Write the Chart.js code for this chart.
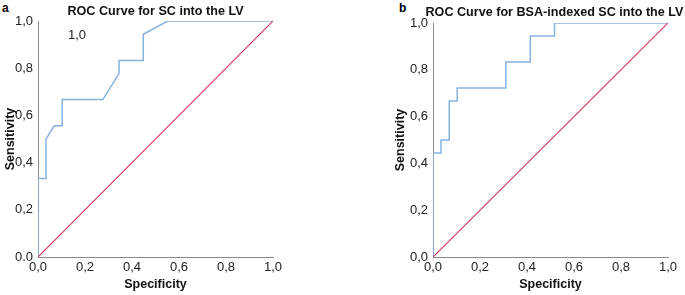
<!DOCTYPE html>
<html>
<head>
<meta charset="utf-8">
<script src="https://cdn.jsdelivr.net/npm/chart.js@4/dist/chart.umd.min.js"></script>
<style>
  body { margin: 0; background: #fff; width: 685px; height: 295px; position: relative; overflow: hidden; }
  .panel { position: absolute; top: 0; }
  .tag { position: absolute; top: 1px; font: bold 12px "Liberation Sans", Arial, sans-serif; color: #000; }
</style>
</head>
<body>
<div class="tag" style="left:2px">a</div>
<div class="tag" style="left:399px">b</div>
<div class="panel" style="left:0;width:290px;height:295px"><canvas id="chartA"></canvas></div>
<div class="panel" style="left:390px;width:295px;height:295px"><canvas id="chartB"></canvas></div>
<script>
// panel a - ROC SC into the LV
var aX = [0, 0, 0.034, 0.034, 0.069, 0.103, 0.103, 0.276, 0.345, 0.345, 0.448, 0.448, 0.552, 1];
var aY = [0, 0.333, 0.333, 0.5, 0.556, 0.556, 0.667, 0.667, 0.778, 0.833, 0.833, 0.944, 1, 1];
var aYTicks = ['0.0', '0,2', '0,4', '0,6', '0,8', '1,0'];
var aNote = { x: 0.166, y: 0.94, text: '1,0' };

// panel b - ROC BSA-indexed SC into the LV
var bX = [0, 0, 0.034, 0.034, 0.069, 0.069, 0.103, 0.103, 0.310, 0.310, 0.414, 0.414, 0.517, 0.517, 1];
var bY = [0, 0.444, 0.444, 0.5, 0.5, 0.667, 0.667, 0.722, 0.722, 0.833, 0.833, 0.944, 0.944, 1, 1];
var bYTicks = ['0,0', '0,2', '0,4', '0,6', '0,8', '1,0'];

var xTicks = ['0,0', '0,2', '0,4', '0,6', '0,8', '1,0'];
var refX = [0, 1];
var refY = [0, 1];

var FONT = '"Liberation Sans", Arial, sans-serif';

function toPoints(xs, ys) {
    return xs.map(function (v, i) { return { x: v, y: ys[i] }; });
}

// title centred over the plot area + optional stray label inside the plot
var textPlugin = {
    id: 'texts',
    afterDraw: function (chart, args, opts) {
        var ctx = chart.ctx;
        var area = chart.chartArea;
        ctx.save();
        ctx.textAlign = 'center';
        ctx.textBaseline = 'middle';
        ctx.fillStyle = '#111';
        ctx.font = 'bold ' + opts.titleSize + 'px ' + FONT;
        ctx.fillText(opts.title, (area.left + area.right) / 2 + opts.titleShift, opts.titleY);
        if (opts.note) {
            ctx.font = '13px ' + FONT;
            ctx.fillStyle = '#222';
            ctx.fillText(opts.note.text, chart.scales.x.getPixelForValue(opts.note.x), chart.scales.y.getPixelForValue(opts.note.y));
        }
        ctx.restore();
    }
};

function makeRoc(canvasId, texts, xs, ys, yTicks, yWidth, padTop) {
    var canvas = document.getElementById(canvasId);
    var ctx = canvas.getContext('2d');
    return new Chart(ctx, {
        type: 'scatter',
        data: {
            datasets: [
                { data: toPoints(refX, refY), showLine: true, borderColor: '#d93b60', borderWidth: 1.2,
                  pointRadius: 0, tension: 0, fill: false },
                { data: toPoints(xs, ys), showLine: true, borderColor: '#86b3e0', borderWidth: 1.5,
                  pointRadius: 0, tension: 0, fill: false }
            ]
        },
        plugins: [textPlugin],
        options: {
            responsive: true,
            maintainAspectRatio: false,
            animation: false,
            layout: { padding: { top: padTop, right: 17, bottom: 0, left: 0 } },
            plugins: {
                legend: { display: false },
                tooltip: { enabled: false },
                title: { display: false },
                texts: texts
            },
            scales: {
                x: {
                    type: 'linear', min: 0, max: 1,
                    grid: { display: false, drawTicks: false },
                    border: { display: true, color: '#8a8a8a', width: 1 },
                    ticks: {
                        stepSize: 0.2, padding: 3, color: '#222',
                        font: { family: FONT, size: 13 },
                        callback: function (v, i) { return xTicks[i]; }
                    },
                    title: { display: true, text: 'Specificity', color: '#111',
                             font: { family: FONT, size: 12.5, weight: 'bold' }, padding: { top: 0, bottom: 3 } },
                    afterFit: function (scale) { scale.height = 38; }
                },
                y: {
                    type: 'linear', min: 0, max: 1,
                    grid: { display: false, drawTicks: false },
                    border: { display: true, color: '#8a8a8a', width: 1 },
                    ticks: {
                        stepSize: 0.2, padding: 5, color: '#222',
                        font: { family: FONT, size: 13 },
                        callback: function (v, i) { return yTicks[i]; }
                    },
                    title: { display: true, text: 'Sensitivity', color: '#111',
                             font: { family: FONT, size: 12.5, weight: 'bold' }, padding: { top: 3, bottom: 0 } },
                    afterFit: function (scale) { scale.width = yWidth; }
                }
            }
        }
    });
}

makeRoc('chartA', { title: 'ROC Curve for SC into the LV', titleSize: 12.6, titleY: 12, titleShift: 0, note: aNote },
        aX, aY, aYTicks, 38, 21);
makeRoc('chartB', { title: 'ROC Curve for BSA-indexed SC into the LV', titleSize: 12.6, titleY: 13, titleShift: 4, note: null },
        bX, bY, bYTicks, 43, 23);
</script>
</body>
</html>
